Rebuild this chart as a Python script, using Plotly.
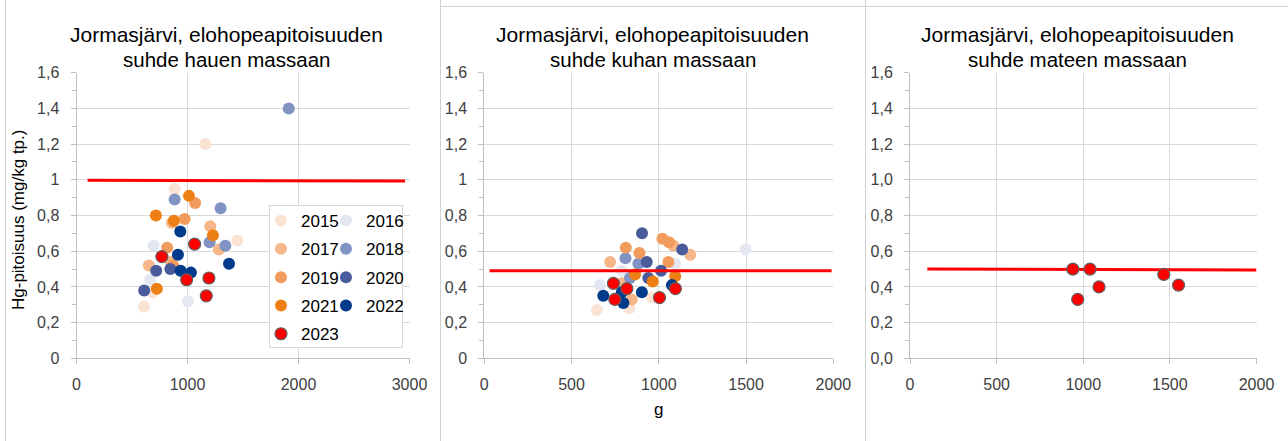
import plotly.graph_objects as go

W, H = 1288, 441
FONT = "Liberation Sans, Arial, sans-serif"

years = ["2015", "2016", "2017", "2018", "2019", "2020", "2021", "2022", "2023"]
colors = {
    "2015": "#FBE3D3", "2016": "#E3E7F1", "2017": "#F5B68A", "2018": "#8193C3",
    "2019": "#F19C5C", "2020": "#4A5B9C", "2021": "#EE7F15", "2022": "#003A8A",
    "2023": "#FF0000",
}

# Panel 1: hauki (pike) - mass g, Hg mg/kg
hauki_x = {
    "2015": [607, 682, 884, 1163, 1449],
    "2016": [664, 694, 1004],
    "2017": [652, 850, 860, 1205, 1283],
    "2018": [884, 1199, 1298, 1341, 1912],
    "2019": [817, 870, 974, 1069],
    "2020": [610, 718, 845],
    "2021": [715, 724, 877, 1013, 1229],
    "2022": [914, 935, 938, 1031, 1374],
    "2023": [769, 992, 1064, 1169, 1193],
}
hauki_y = {
    "2015": [0.29, 0.37, 0.95, 1.20, 0.66],
    "2016": [0.44, 0.63, 0.32],
    "2017": [0.52, 0.54, 0.76, 0.74, 0.61],
    "2018": [0.89, 0.65, 0.84, 0.63, 1.40],
    "2019": [0.62, 0.52, 0.78, 0.87],
    "2020": [0.38, 0.49, 0.50],
    "2021": [0.80, 0.39, 0.77, 0.91, 0.69],
    "2022": [0.58, 0.71, 0.49, 0.48, 0.53],
    "2023": [0.57, 0.44, 0.64, 0.35, 0.45],
}

# Panel 2: kuha (zander)
kuha_x = {
    "2015": [645, 831, 960],
    "2016": [663, 788, 1094, 1497],
    "2017": [721, 790, 845, 1084, 1180],
    "2018": [809, 835, 883],
    "2019": [811, 889, 1021, 1059, 1055],
    "2020": [904, 931, 940, 1013, 1134],
    "2021": [864, 965, 1094],
    "2022": [682, 788, 797, 903, 1075],
    "2023": [740, 748, 817, 1004, 1095],
}
kuha_y = {
    "2015": [0.27, 0.28, 0.34],
    "2016": [0.41, 0.49, 0.53, 0.61],
    "2017": [0.54, 0.42, 0.33, 0.63, 0.58],
    "2018": [0.56, 0.45, 0.53],
    "2019": [0.62, 0.59, 0.67, 0.65, 0.54],
    "2020": [0.70, 0.54, 0.45, 0.49, 0.61],
    "2021": [0.47, 0.43, 0.46],
    "2022": [0.35, 0.37, 0.31, 0.37, 0.41],
    "2023": [0.42, 0.33, 0.39, 0.34, 0.39],
}

# Panel 3: made (burbot), 2023 only
made_x = [940, 968, 1039, 1091, 1465, 1550]
made_y = [0.50, 0.33, 0.50, 0.40, 0.47, 0.41]

# Red reference lines
line1_x, line1_y = [100, 2960], [0.997, 0.993]
line2_x, line2_y = [30, 1990], [0.491, 0.491]
line3_x, line3_y = [100, 2000], [0.500, 0.495]

titles = [
    ["Jormasjärvi, elohopeapitoisuuden", "suhde hauen massaan"],
    ["Jormasjärvi, elohopeapitoisuuden", "suhde kuhan massaan"],
    ["Jormasjärvi, elohopeapitoisuuden", "suhde mateen massaan"],
]
y_ticks = [0, 0.2, 0.4, 0.6, 0.8, 1.0, 1.2, 1.4, 1.6]
y_labels_a = ["0", "0,2", "0,4", "0,6", "0,8", "1", "1,2", "1,4", "1,6"]
y_labels_b = ["0,0", "0,2", "0,4", "0,6", "0,8", "1,0", "1,2", "1,4", "1,6"]
x1_ticks = [0, 1000, 2000, 3000]
x23_ticks = [0, 500, 1000, 1500, 2000]
y_title = "Hg-pitoisuus (mg/kg tp.)"
x_title = "g"


def px(x):
    return x / W


def py(y):
    return 1 - y / H


fig = go.Figure()


def marker(year):
    if year == "2023":
        return dict(size=12, color=colors[year], line=dict(color="#606060", width=1.2))
    return dict(size=12, color=colors[year], line=dict(width=0))


col1 = ["2015", "2017", "2019", "2021", "2023"]
for yr in years:
    fig.add_trace(go.Scatter(
        x=hauki_x[yr], y=hauki_y[yr], mode="markers", name=yr, marker=marker(yr),
        xaxis="x", yaxis="y", legendgroup=yr, showlegend=True,
        legend="legend" if yr in col1 else "legend2"))
fig.add_trace(go.Scatter(x=line1_x, y=line1_y, mode="lines", line=dict(color="#FF0000", width=3),
                         xaxis="x", yaxis="y", showlegend=False))

for yr in years:
    fig.add_trace(go.Scatter(
        x=kuha_x[yr], y=kuha_y[yr], mode="markers", name=yr, marker=marker(yr),
        xaxis="x2", yaxis="y2", legendgroup=yr, showlegend=False))
fig.add_trace(go.Scatter(x=line2_x, y=line2_y, mode="lines", line=dict(color="#FF0000", width=3),
                         xaxis="x2", yaxis="y2", showlegend=False))

fig.add_trace(go.Scatter(x=line3_x, y=line3_y, mode="lines", line=dict(color="#FF0000", width=3),
                         xaxis="x3", yaxis="y3", showlegend=False))
fig.add_trace(go.Scatter(x=made_x, y=made_y, mode="markers", name="2023", marker=marker("2023"),
                         xaxis="x3", yaxis="y3", legendgroup="2023", showlegend=False))

ydom = [py(358.3), py(72.7)]
grid = "#D9D9D9"
axcol = "#BFBFBF"
tickfont = dict(family=FONT, size=16, color="#404040")


def xaxis(dom, rng, ticks, anchor):
    return dict(domain=[px(dom[0]), px(dom[1])], range=rng, tickvals=ticks,
                ticktext=[str(t) for t in ticks], showgrid=True, gridcolor=grid, gridwidth=1,
                showline=True, linecolor=axcol, linewidth=1, ticks="outside", ticklen=5,
                tickcolor=axcol, tickfont=tickfont, zeroline=False, anchor=anchor,
                ticklabelstandoff=6, fixedrange=True)


def yaxis(labels, anchor):
    return dict(domain=ydom, range=[0, 1.6], tickvals=y_ticks, ticktext=labels,
                showgrid=True, gridcolor=grid, gridwidth=1, showline=True, linecolor=axcol,
                linewidth=1, ticks="outside", ticklen=5, tickcolor=axcol, tickfont=tickfont,
                zeroline=False, anchor=anchor, ticklabelstandoff=8, fixedrange=True,
                minor=dict(dtick=0.1, tick0=0, ticks="outside", ticklen=4, tickcolor=axcol,
                           showgrid=False))


legfont = dict(family=FONT, size=17, color="#000000")
layout = dict(
    width=W, height=H, margin=dict(l=0, r=0, t=0, b=0, autoexpand=False),
    paper_bgcolor="white", plot_bgcolor="white", font=dict(family=FONT, color="#000000"),
    xaxis=xaxis([76.5, 409.5], [0, 3000], x1_ticks, "y"),
    xaxis2=xaxis([484.3, 833.3], [0, 2000], x23_ticks, "y2"),
    xaxis3=xaxis([910, 1256.5], [0, 2000], x23_ticks, "y3"),
    yaxis=yaxis(y_labels_a, "x"),
    yaxis2=yaxis(y_labels_a, "x2"),
    yaxis3=yaxis(y_labels_b, "x3"),
    legend=dict(x=px(261), y=py(203), xanchor="left", yanchor="top", bgcolor="rgba(0,0,0,0)",
                font=legfont, tracegroupgap=3.2, orientation="v", traceorder="grouped"),
    legend2=dict(x=px(326), y=py(203), xanchor="left", yanchor="top", bgcolor="rgba(0,0,0,0)",
                 font=legfont, tracegroupgap=3.2, orientation="v", traceorder="grouped"),
    showlegend=True,
)
fig.update_layout(**layout)

shapes = [
    dict(type="rect", xref="paper", yref="paper", x0=px(269.5), x1=px(402.5), y0=py(347.5), y1=py(205.5),
         fillcolor="white", line=dict(color="#D9D9D9", width=1), layer="above"),
    dict(type="line", xref="paper", yref="paper", x0=px(440.5), x1=px(440.5), y0=0, y1=1,
         line=dict(color="#D0D0D0", width=1)),
    dict(type="line", xref="paper", yref="paper", x0=px(865.5), x1=px(865.5), y0=0, y1=1,
         line=dict(color="#D0D0D0", width=1)),
    dict(type="line", xref="paper", yref="paper", x0=px(5.5), x1=px(5.5), y0=0, y1=1,
         line=dict(color="#D0D0D0", width=1)),
    dict(type="line", xref="paper", yref="paper", x0=px(440.5), x1=1, y0=py(6.5), y1=py(6.5),
         line=dict(color="#D0D0D0", width=1)),
]
fig.update_layout(shapes=shapes)

ann = []
centers = [226, 652.5, 1077.5]
for c, t in zip(centers, titles):
    ann.append(dict(text=t[0], x=px(c), y=py(35), xref="paper", yref="paper", showarrow=False,
                    xanchor="center", yanchor="middle", font=dict(family=FONT, size=21, color="#000000")))
    ann.append(dict(text=t[1], x=px(c), y=py(59), xref="paper", yref="paper", showarrow=False,
                    xanchor="center", yanchor="middle", font=dict(family=FONT, size=20.5, color="#000000")))
ann.append(dict(text=y_title, x=px(18), y=py(220), xref="paper", yref="paper", showarrow=False,
                textangle=-90, xanchor="center", yanchor="middle",
                font=dict(family=FONT, size=17, color="#000000")))
ann.append(dict(text=x_title, x=px(658), y=py(409), xref="paper", yref="paper", showarrow=False,
                xanchor="center", yanchor="middle", font=dict(family=FONT, size=17, color="#000000")))
fig.update_layout(annotations=ann)

fig.write_html("out.html", config={"displayModeBar": False})
